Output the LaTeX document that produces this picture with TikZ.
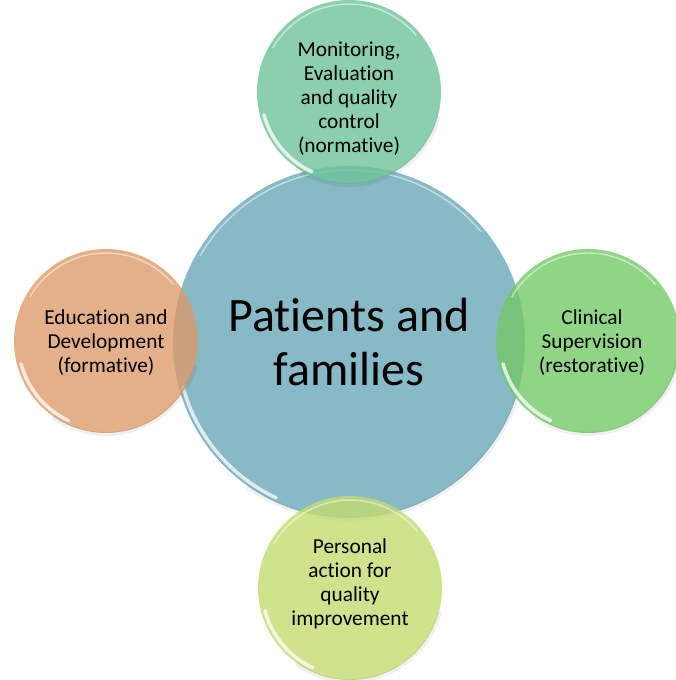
\documentclass[tikz,border=0pt]{standalone}
\usepackage{fontspec}
\setmainfont{Carlito}[Ligatures={NoCommon}]
\usetikzlibrary{calc}

\definecolor{hubblue}{HTML}{87B9C6}
\definecolor{mintgreen}{HTML}{6FC39A}
\definecolor{peach}{HTML}{DC9C6B}
\definecolor{leafgreen}{HTML}{74C968}
\definecolor{limegreen}{HTML}{C3DB6F}

\tikzset{
  hub/.style={circle, fill=hubblue, inner sep=0pt, minimum size=264pt},
  sat/.style={circle, inner sep=0pt, minimum size=138pt, fill opacity=0.8},
  sattext/.style={font=\fontsize{16}{18}\selectfont, align=center, text=black},
  hubtext/.style={font=\fontsize{36}{40}\selectfont, align=center, text=black},
  softshade/.style={black, opacity=0.06, line width=3pt},
  rimlight/.style={white, opacity=0.5, line width=1.1pt},
  glowlight/.style={white, opacity=0.75, line width=2.6pt, line cap=round}
}

% glossy rim highlights and a soft lower shadow for a bubble
% #1 = node name, #2 = inner highlight radius, #3 = outer shadow radius
\newcommand{\bubblegloss}[3]{%
  \draw[softshade] ($(#1)+(235:#3)$) arc[start angle=235, end angle=345, radius=#3];
  \draw[rimlight] ($(#1)+(150:#2)$) arc[start angle=150, end angle=40, radius=#2];
  \draw[glowlight] ($(#1)+(195:#2)$) arc[start angle=195, end angle=245, radius=#2];
}

\begin{document}
\begin{tikzpicture}[x=0.75pt, y=0.75pt]
  \useasboundingbox (0,0) rectangle (675,680);

  % central hub
  \node[hub] (hub) at (349,338) {};
  \bubblegloss{hub}{172}{177}

  % four surrounding bubbles
  \node[sat, fill=mintgreen] (top) at (349,588) {};
  \node[sat, fill=peach] (left) at (106,339) {};
  \node[sat, fill=leafgreen] (right) at (588,339) {};
  \node[sat, fill=limegreen] (bottom) at (350,92) {};

  \bubblegloss{top}{88}{93}
  \bubblegloss{left}{88}{93}
  \bubblegloss{right}{88}{93}
  \bubblegloss{bottom}{88}{93}

  % labels
  \node[hubtext] (hublabel) at (hub) {Patients and\\families};
  \node[sattext] (toplabel) at ($(top)+(0,-7)$) {Monitoring,\\Evaluation\\and quality\\control\\(normative)};
  \node[sattext] (leftlabel) at ($(left)+(0,-2)$) {Education and\\Development\\(formative)};
  \node[sattext] (rightlabel) at ($(right)+(4,-2)$) {Clinical\\Supervision\\(restorative)};
  \node[sattext] (bottomlabel) at ($(bottom)+(0,4)$) {Personal\\action for\\quality\\improvement};
\end{tikzpicture}
\end{document}
